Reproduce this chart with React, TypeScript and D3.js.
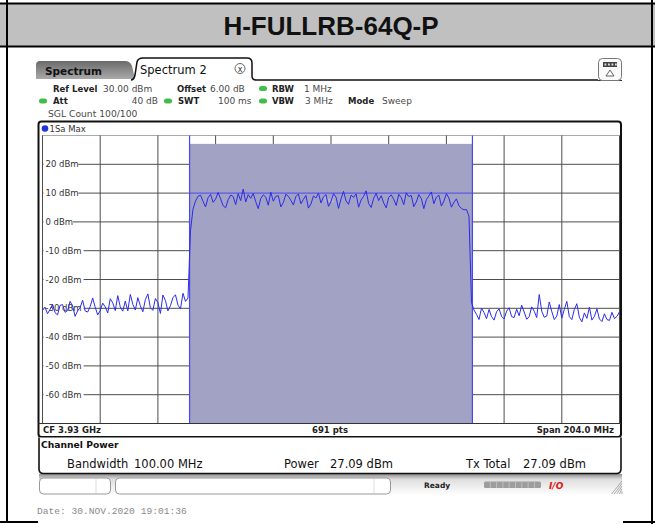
import * as d3 from "d3";

const TITLE = "H-FULLRB-64Q-P";
const CF_LABEL = "CF 3.93 GHz";
const PTS_LABEL = "691 pts";
const SPAN_MHZ = 204;
const CHANNEL_BW_MHZ = 100;
const POWER_DBM = 27.09;
const TX_TOTAL_DBM = 27.09;
const REF_LEVEL_DBM = 30;
const BOTTOM_DBM = -70;
const DB_TICKS = [20, 10, 0, -10, -20, -30, -40, -50, -60];

// sweep trace (dBm), evenly spaced over the span
const NOISE_LEFT = [
  -30.8, -29.6, -31.9, -30.4, -28.6, -31.5, -32.3, -29.0, -28.7, -31.4,
  -30.8, -27.6, -29.2, -32.8, -30.9, -29.7, -27.2, -30.9, -31.3, -29.4,
  -26.4, -29.6, -32.3, -30.8, -28.2, -29.5, -31.6, -26.7, -28.1, -30.8,
  -25.6, -29.5, -31.0, -27.5, -30.9, -25.2, -28.6, -30.6, -26.3, -29.1,
  -31.2, -27.0, -25.0, -29.8, -30.7, -26.6, -28.0, -31.8, -25.4, -27.3,
  -30.9, -29.1, -26.3, -25.3, -28.9, -30.2, -24.8, -27.6, -26.4,
];
const IN_BAND = [
  -3.0, 4.5, 7.2,
  8.9, 9.3, 7.1, 5.2, 8.4, 9.6, 6.8, 7.9, 10.2, 8.0,
  5.6, 4.9, 7.7, 9.3, 8.8, 6.0, 9.8, 7.4, 11.4, 6.9,
  9.5, 8.2, 9.9, 7.0, 4.6, 8.1, 9.4, 8.6, 5.8, 10.3,
  7.2, 8.9, 9.1, 5.2, 6.7, 9.6, 8.9, 7.5, 5.9, 8.8,
  9.7, 6.3, 7.8, 9.2, 4.8, 6.2, 9.0, 8.3, 10.0, 6.6,
  8.7, 9.5, 5.4, 7.1, 9.8, 8.6, 4.7, 8.0, 10.6, 7.3,
  6.1, 9.3, 8.5, 9.7, 5.1, 7.6, 8.9, 10.8, 6.4, 5.0,
  8.2, 9.9, 7.4, 9.1, 6.6, 4.9, 8.5, 9.4, 7.9, 5.7,
  9.6, 8.4, 6.0, 10.1, 8.8, 9.2, 5.3, 6.9, 9.5, 8.1,
  4.6, 7.7, 9.0, 10.4, 6.3, 8.6, 9.3, 5.5, 7.2, 9.8,
  8.3, 5.1, 6.8, 8.0, 5.6, 4.7, 4.2,
  4.3, 2.0, -28.0,
];
const NOISE_RIGHT = [
  -30.6, -32.1, -33.9, -29.9, -31.5, -33.6, -30.4, -32.9, -34.1, -31.2,
  -30.2, -32.8, -33.7, -31.0, -29.8, -32.9, -33.2, -30.3, -32.6, -28.9,
  -31.3, -33.8, -32.9, -29.5, -31.0, -33.2, -25.2, -31.0, -33.1, -32.7,
  -27.8, -31.1, -33.9, -32.7, -28.7, -33.4, -30.4, -27.6, -32.9, -33.9,
  -30.4, -28.4, -33.1, -34.7, -31.6, -33.5, -29.6, -34.1, -32.8, -30.2,
  -33.7, -34.6, -31.9, -33.9, -34.2, -31.4, -33.6, -32.8, -31.2,
];
const TRACE = [...NOISE_LEFT, ...IN_BAND, ...NOISE_RIGHT];

const UI = "DejaVu Sans, Verdana, sans-serif";
const GRID = "#4d4d4d";
const CH_FILL = "#a2a2c4";
const CH_EDGE = "#4848f0";
const TRACE_COLOR = "#2b2bea";
const GREEN = "#3fbf4a";

function Dot({ x, y }: { x: number; y: number }) {
  return <rect x={x - 4} y={y - 2.5} width={8} height={5} rx={2.5} fill={GREEN} />;
}

export default function App() {
  const x = d3.scaleLinear().domain([-SPAN_MHZ / 2, SPAN_MHZ / 2]).range([42.5, 619.5]);
  const y = d3.scaleLinear().domain([BOTTOM_DBM, REF_LEVEL_DBM]).range([423.5, 135.5]);
  const step = SPAN_MHZ / (TRACE.length - 1);
  const line = d3
    .line<number>()
    .x((_, i) => x(-SPAN_MHZ / 2 + i * step))
    .y((d) => y(d));
  const vLines = d3.range(11).map((i) => -SPAN_MHZ / 2 + (i * SPAN_MHZ) / 10);
  const chL = x(-CHANNEL_BW_MHZ / 2);
  const chR = x(CHANNEL_BW_MHZ / 2);

  return (
    <svg
      width={655}
      height={524}
      style={{ position: "absolute", left: 0, top: 0, background: "#fff" }}
    >
      <defs>
        <linearGradient id="tabGrad" x1="0" y1="0" x2="0" y2="1">
          <stop offset="0%" stopColor="#6a6a6a" />
          <stop offset="100%" stopColor="#a9a9a9" />
        </linearGradient>
        <linearGradient id="statusGrad" x1="0" y1="0" x2="0" y2="1">
          <stop offset="0%" stopColor="#8e8e8e" />
          <stop offset="25%" stopColor="#dedede" />
          <stop offset="100%" stopColor="#ffffff" />
        </linearGradient>
        <clipPath id="plotClip">
          <rect x={42.5} y={135.5} width={577} height={288} />
        </clipPath>
      </defs>

      {/* table frame + title */}
      <rect x={0} y={4} width={655} height={42} fill="#c0c0c0" />
      <line x1={0} x2={655} y1={3.5} y2={3.5} stroke="#000" strokeWidth={2} />
      <line x1={0} x2={655} y1={46.5} y2={46.5} stroke="#000" strokeWidth={2} />
      <line x1={7} x2={7} y1={0} y2={523} stroke="#000" strokeWidth={2} />
      <line x1={652} x2={652} y1={0} y2={524} stroke="#000" strokeWidth={2} />
      <line x1={0} x2={38} y1={522} y2={522} stroke="#000" strokeWidth={2} />
      <line x1={623} x2={655} y1={522} y2={522} stroke="#000" strokeWidth={2} />
      <text
        x={331}
        y={35}
        textAnchor="middle"
        fontFamily="Liberation Sans, Arial, sans-serif"
        fontWeight="bold"
        fontSize={26}
        fill="#111"
      >
        {TITLE}
      </text>

      {/* tabs */}
      <path d="M36,79 L36,65 Q36,61 40,61 L125,61 Q130,61 132,66 L135,79 Z" fill="url(#tabGrad)" />
      <text x={45} y={74.5} fontFamily={UI} fontWeight="bold" fontSize={10.5} fill="#111">
        Spectrum
      </text>
      <path
        d="M131,80 Q134,80 135,75 L137,62 Q138,58 143,58 L247,58 Q252,58 252,63 L252,76 Q252,80 256,80 L598,80"
        fill="#fff"
        stroke="#111"
        strokeWidth={1.5}
      />
      <text x={140} y={73.5} fontFamily={UI} fontSize={11.5} fill="#111">
        Spectrum 2
      </text>
      <circle cx={240} cy={68.5} r={5} fill="#fff" stroke="#666" strokeWidth={1} />
      <text x={240} y={71.5} textAnchor="middle" fontFamily={UI} fontSize={8} fill="#333">
        x
      </text>
      <line x1={598} x2={622} y1={80.5} y2={80.5} stroke="#333" strokeWidth={1} />
      <rect x={598.5} y={58.5} width={23} height={22} rx={4} fill="#fafafa" stroke="#777" />
      <rect x={603} y={62} width={14} height={5} fill="#444" />
      {[605.5, 609, 612.5, 616].map((cx) => (
        <rect key={cx} x={cx - 1} y={63.5} width={1.8} height={2} fill="#ddd" />
      ))}
      <path d="M610,70 L614,76 L606,76 Z" fill="none" stroke="#555" strokeWidth={0.9} />

      {/* header parameters */}
      <g fontFamily={UI} fill="#222">
        <g fontSize={8.5} fontWeight="bold">
          <text x={53} y={91.5}>Ref Level</text>
          <text x={177} y={91.5}>Offset</text>
          <text x={272} y={91.5}>RBW</text>
          <text x={53} y={104}>Att</text>
          <text x={178} y={104}>SWT</text>
          <text x={272} y={104}>VBW</text>
          <text x={348} y={104}>Mode</text>
        </g>
        <g fontSize={9} fill="#4a4a4a">
          <text x={103} y={91.5}>30.00 dBm</text>
          <text x={210} y={91.5}>6.00 dB</text>
          <text x={304} y={91.5}>1 MHz</text>
          <text x={158} y={104} textAnchor="end">40 dB</text>
          <text x={218} y={104}>100 ms</text>
          <text x={305} y={104}>3 MHz</text>
          <text x={382} y={104}>Sweep</text>
          <text x={48} y={116.5} fontSize={9.2}>SGL Count 100/100</text>
        </g>
        <Dot x={263} y={88.5} />
        <Dot x={43} y={101} />
        <Dot x={168} y={101} />
        <Dot x={263} y={101} />
      </g>

      {/* diagram frame */}
      <rect x={38.5} y={121.5} width={582.5} height={315.5} rx={3} fill="#fff" stroke="#111" strokeWidth={2} />
      <circle cx={45} cy={128.5} r={3.3} fill="#2233dd" />
      <text x={49.5} y={131.5} fontFamily={UI} fontSize={8.5} fill="#333">
        1Sa Max
      </text>

      {/* grid */}
      <line x1={42.5} x2={619.5} y1={y(REF_LEVEL_DBM)} y2={y(REF_LEVEL_DBM)} stroke="#aaa" />
      {vLines.map((f) => (
        <line key={f} x1={x(f)} x2={x(f)} y1={y(REF_LEVEL_DBM)} y2={y(BOTTOM_DBM)} stroke={GRID} />
      ))}
      {DB_TICKS.map((d) => (
        <line key={d} x1={42.5} x2={619.5} y1={y(d)} y2={y(d)} stroke={GRID} />
      ))}
      {DB_TICKS.map((d) => {
        const label = `${d} dBm`;
        return (
          <g key={`l${d}`}>
            <rect x={43.5} y={y(d) - 4} width={label.length * 5.3 + 3} height={8} fill="#fff" />
            <text x={45.5} y={y(d) + 3} fontFamily={UI} fontSize={8.5} fill="#333">
              {label}
            </text>
          </g>
        );
      })}

      {/* channel bar */}
      <rect x={chL} y={y(POWER_DBM)} width={chR - chL} height={y(BOTTOM_DBM) - y(POWER_DBM)} fill={CH_FILL} />
      <line x1={chL} x2={chR} y1={y(10)} y2={y(10)} stroke={CH_EDGE} strokeWidth={1} />
      <line x1={chL} x2={chL} y1={y(REF_LEVEL_DBM)} y2={y(BOTTOM_DBM)} stroke={CH_EDGE} strokeWidth={1.2} />
      <line x1={chR} x2={chR} y1={y(REF_LEVEL_DBM)} y2={y(BOTTOM_DBM)} stroke={CH_EDGE} strokeWidth={1.2} />
      <text x={x(0) - 8} y={y(10) + 9} fontFamily={UI} fontSize={6.5} fill="#c4c4dc">
        Tx1
      </text>

      {/* trace */}
      <path d={line(TRACE) ?? ""} fill="none" stroke={TRACE_COLOR} strokeWidth={1} clipPath="url(#plotClip)" />

      <line x1={42.5} x2={42.5} y1={y(REF_LEVEL_DBM)} y2={y(BOTTOM_DBM)} stroke={GRID} />
      <line x1={38.5} x2={621} y1={y(BOTTOM_DBM)} y2={y(BOTTOM_DBM)} stroke="#333" />
      <g fontFamily={UI} fontSize={8.5} fontWeight="bold" fill="#222">
        <text x={43} y={433}>{CF_LABEL}</text>
        <text x={330} y={433} textAnchor="middle">{PTS_LABEL}</text>
        <text x={614} y={433} textAnchor="end">{`Span ${SPAN_MHZ.toFixed(1)} MHz`}</text>
      </g>

      {/* channel power table */}
      <rect x={39} y={474} width={583} height={21} fill="url(#statusGrad)" />
      <path
        d="M39,437.5 L39,469 Q39,473.5 43.5,473.5 L616.5,473.5 Q621,473.5 621,469 L621,437.5"
        fill="#fff"
        stroke="#111"
        strokeWidth={1.6}
      />
      <g fontFamily={UI} fill="#111">
        <text x={41} y={448} fontSize={9.2} fontWeight="bold">Channel Power</text>
        <g fontSize={11.5}>
          <text x={67} y={468}>Bandwidth</text>
          <text x={134} y={468}>{`${CHANNEL_BW_MHZ.toFixed(2)} MHz`}</text>
          <text x={284} y={468}>Power</text>
          <text x={330} y={468}>{`${POWER_DBM.toFixed(2)} dBm`}</text>
          <text x={466} y={468}>Tx Total</text>
          <text x={523} y={468}>{`${TX_TOTAL_DBM.toFixed(2)} dBm`}</text>
        </g>
      </g>

      {/* status bar */}
      <rect x={39.5} y={478} width={71} height={16} rx={4} fill="#fff" stroke="#999" />
      <line x1={96} x2={96} y1={479} y2={493} stroke="#ddd" />
      <rect x={115.5} y={478} width={275} height={16} rx={4} fill="#fff" stroke="#999" />
      <line x1={374} x2={374} y1={479} y2={493} stroke="#ddd" />
      <text x={424} y={488} fontFamily={UI} fontSize={7.5} fontWeight="bold" fill="#222">
        Ready
      </text>
      <rect x={484} y={481.5} width={57} height={6.5} rx={1.5} fill="#9d9d9d" />
      {d3.range(1, 9).map((i) => (
        <line key={i} x1={484 + i * 6.3} x2={484 + i * 6.3} y1={482} y2={488} stroke="#c8c8c8" strokeWidth={0.8} />
      ))}
      <text x={549} y={489} fontFamily={UI} fontSize={9} fontWeight="bold" fontStyle="italic" fill="#dd1616">
        I/O
      </text>
      {d3.range(5).map((i) => (
        <line key={i} x1={622 - i * 2.6} x2={622} y1={494} y2={494 - (i + 1) * 2.6} stroke="#888" strokeWidth={0.7} />
      ))}

      <text x={37} y={514} fontFamily="Liberation Mono, DejaVu Sans Mono, monospace" fontSize={9.6} fill="#8a8a8a">
        {"Date: 30.NOV.2020  19:01:36"}
      </text>
    </svg>
  );
}
